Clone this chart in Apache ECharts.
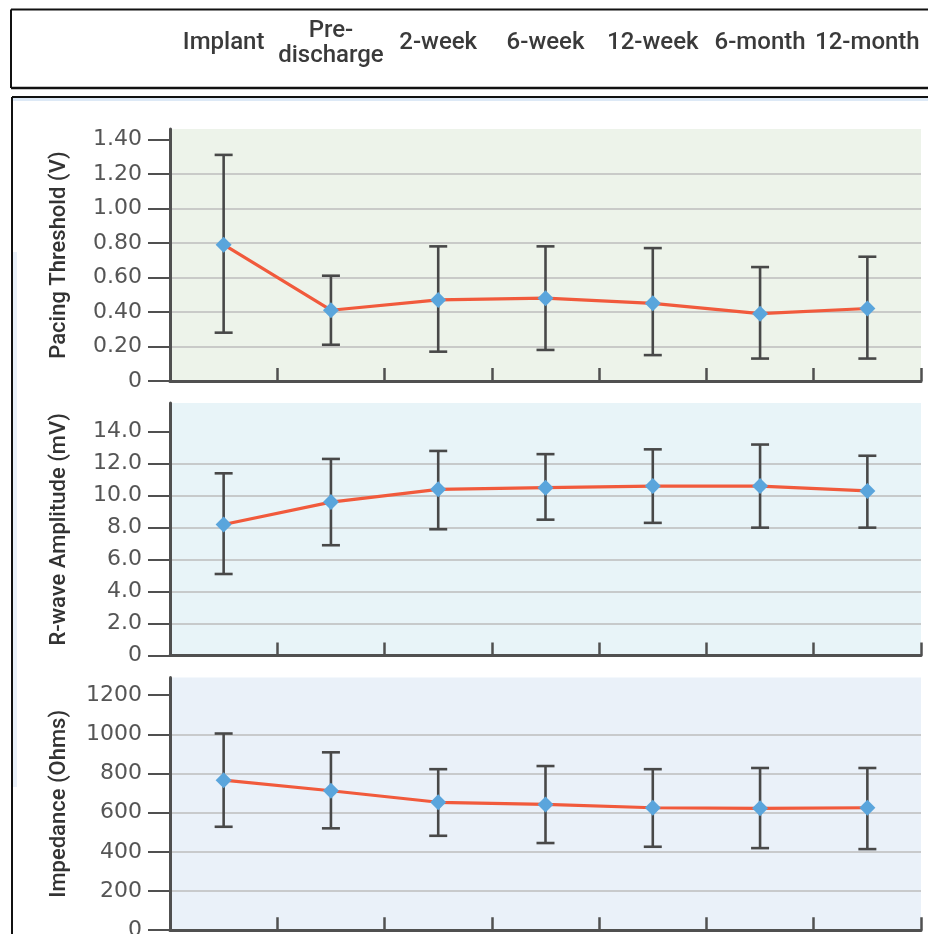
<!DOCTYPE html>
<html>
<head>
<meta charset="utf-8">
<script src="https://cdn.jsdelivr.net/npm/echarts@6/dist/echarts.min.js"></script>
<style>
html,body{margin:0;padding:0;background:#fff;}
#chart{width:928px;height:934px;}
</style>
</head>
<body>
<div id="chart"></div>
<script>
const categories = ['Implant', 'Pre-\ndischarge', '2-week', '6-week', '12-week', '6-month', '12-month'];

const thresholdMean = [0.79, 0.41, 0.47, 0.48, 0.45, 0.39, 0.42];
const thresholdHigh = [1.31, 0.61, 0.78, 0.78, 0.77, 0.66, 0.72];
const thresholdLow  = [0.28, 0.21, 0.17, 0.18, 0.15, 0.13, 0.13];

const rwaveMean = [8.2, 9.6, 10.4, 10.5, 10.6, 10.6, 10.3];
const rwaveHigh = [11.4, 12.3, 12.8, 12.6, 12.9, 13.2, 12.5];
const rwaveLow  = [5.1, 6.9, 7.9, 8.5, 8.3, 8.0, 8.0];

const impMean = [766, 712, 653, 642, 625, 622, 625];
const impHigh = [1004, 908, 822, 838, 822, 828, 828];
const impLow  = [528, 520, 482, 445, 426, 419, 414];

const thresholdTicks = [0, 0.2, 0.4, 0.6, 0.8, 1.0, 1.2, 1.4];
const rwaveTicks = [0, 2, 4, 6, 8, 10, 12, 14];
const impTicks = [0, 200, 400, 600, 800, 1000, 1200];

const axisNames = ['Pacing Threshold (V)', 'R-wave Amplitude (mV)', 'Impedance (Ohms)'];

const chart = echarts.init(document.getElementById('chart'), null, {renderer: 'canvas'});

const AX = '#505050';
const grids = [
  {left: 170, right: 7, top: 129, height: 252, show: true, backgroundColor: '#edf3ea', borderWidth: 0, outerBoundsMode: 'none', containLabel: false},
  {left: 170, right: 7, top: 403, height: 252.5, show: true, backgroundColor: '#e8f4f8', borderWidth: 0, outerBoundsMode: 'none', containLabel: false},
  {left: 170, right: 7, top: 677.5, height: 252.7, show: true, backgroundColor: '#eaf1f9', borderWidth: 0, outerBoundsMode: 'none', containLabel: false},
  {left: 170, right: 7, top: 42, height: 1, outerBoundsMode: 'none', containLabel: false}
];

function panelXAxis(i) {
  return {
    type: 'category', gridIndex: i, data: categories, boundaryGap: true,
    axisLine: {show: true, lineStyle: {color: AX, width: 3}},
    axisTick: {show: true, inside: true, length: 13, alignWithLabel: false, lineStyle: {color: AX, width: 2.5}},
    axisLabel: {show: false},
    splitLine: {show: false}
  };
}

function panelYAxis(i, max, interval, ticks, fmt) {
  return {
    type: 'value', gridIndex: i, min: 0, max: max, interval: interval,
    name: axisNames[i], nameLocation: 'middle', nameGap: 100,
    nameTextStyle: {fontFamily: 'Roboto', fontSize: 22, fontWeight: 500, color: '#333333'},
    axisLine: {show: true, lineStyle: {color: AX, width: 3}},
    axisTick: {show: true, inside: false, length: 22, customValues: ticks, lineStyle: {color: AX, width: 2}},
    axisLabel: {show: true, customValues: ticks, margin: 28, fontFamily: 'DejaVu Sans', fontSize: 22, color: '#555555', formatter: fmt},
    splitLine: {show: true, showMaxLine: false, lineStyle: {color: '#bdbdbd', width: 1.5}}
  };
}

function errorBar(params, api) {
  const x = api.value(0);
  const lo = api.coord([x, api.value(1)]);
  const hi = api.coord([x, api.value(2)]);
  const hw = 9;
  const st = {stroke: '#484848', lineWidth: 2.6};
  return {
    type: 'group',
    children: [
      {type: 'line', shape: {x1: lo[0], y1: lo[1], x2: hi[0], y2: hi[1]}, style: st},
      {type: 'line', shape: {x1: lo[0] - hw, y1: lo[1], x2: lo[0] + hw, y2: lo[1]}, style: st},
      {type: 'line', shape: {x1: hi[0] - hw, y1: hi[1], x2: hi[0] + hw, y2: hi[1]}, style: st}
    ]
  };
}

function barSeries(i, low, high) {
  return {
    type: 'custom', xAxisIndex: i, yAxisIndex: i, renderItem: errorBar, z: 2,
    encode: {x: 0, y: [1, 2]},
    data: categories.map((c, k) => [k, low[k], high[k]]),
    silent: true
  };
}

function lineSeries(i, mean) {
  return {
    type: 'line', xAxisIndex: i, yAxisIndex: i, data: mean, z: 3,
    symbol: 'diamond', symbolSize: 16, showSymbol: true,
    itemStyle: {color: '#5aa5dc'},
    lineStyle: {color: '#f15a3c', width: 3.2},
    animation: false
  };
}

const option = {
  animation: false,
  backgroundColor: '#ffffff',
  grid: grids,
  xAxis: [
    panelXAxis(0), panelXAxis(1), panelXAxis(2),
    {
      type: 'category', gridIndex: 3, data: categories, boundaryGap: true, position: 'bottom',
      axisLine: {show: false}, axisTick: {show: false}, splitLine: {show: false},
      axisLabel: {show: true, interval: 0, margin: 0, verticalAlign: 'middle', align: 'center',
        fontFamily: 'Roboto', fontSize: 24, fontWeight: 500, lineHeight: 25, color: '#3a3a3a'}
    }
  ],
  yAxis: [
    panelYAxis(0, 1.46, 0.2, thresholdTicks, v => v === 0 ? '0' : v.toFixed(2)),
    panelYAxis(1, 15.8, 2, rwaveTicks, v => v === 0 ? '0' : v.toFixed(1)),
    panelYAxis(2, 1290, 200, impTicks, v => String(v)),
    {type: 'value', gridIndex: 3, show: false}
  ],
  series: [
    barSeries(0, thresholdLow, thresholdHigh), lineSeries(0, thresholdMean),
    barSeries(1, rwaveLow, rwaveHigh), lineSeries(1, rwaveMean),
    barSeries(2, impLow, impHigh), lineSeries(2, impMean)
  ],
  graphic: [
    {type: 'line', shape: {x1: 11, y1: 9.5, x2: 928, y2: 9.5}, style: {stroke: '#111', lineWidth: 2}, silent: true},
    {type: 'line', shape: {x1: 11, y1: 88, x2: 928, y2: 88}, style: {stroke: '#111', lineWidth: 2.5}, silent: true},
    {type: 'line', shape: {x1: 11, y1: 9.5, x2: 11, y2: 88}, style: {stroke: '#111', lineWidth: 2}, silent: true},
    {type: 'rect', shape: {x: 13, y: 98, width: 915, height: 3}, style: {fill: '#dde9f6'}, silent: true},
    {type: 'rect', shape: {x: 13, y: 252, width: 4, height: 535}, style: {fill: '#e9f0f9'}, silent: true},
    {type: 'line', shape: {x1: 12, y1: 97, x2: 928, y2: 97}, style: {stroke: '#111', lineWidth: 2}, silent: true},
    {type: 'line', shape: {x1: 12, y1: 97, x2: 12, y2: 934}, style: {stroke: '#111', lineWidth: 2}, silent: true}
  ]
};

chart.setOption(option);
</script>
</body>
</html>
